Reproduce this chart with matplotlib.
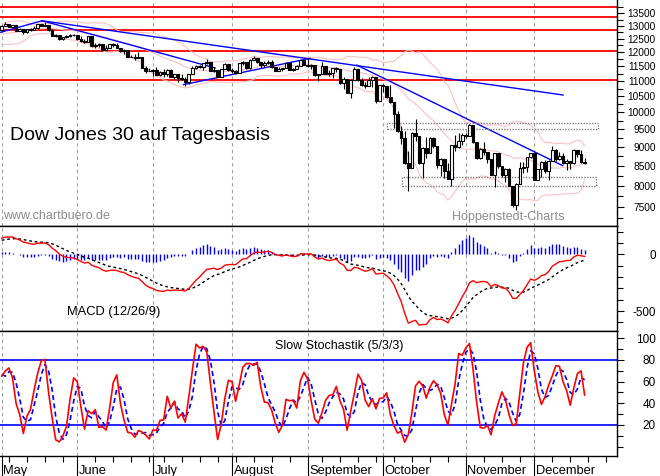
"""Dow Jones 30 daily candles with Bollinger, MACD and slow stochastic panels."""

import matplotlib

matplotlib.use("Agg")
import matplotlib.pyplot as plt  # noqa: E402
import matplotlib.transforms as mtransforms  # noqa: E402
import numpy as np  # noqa: E402
import pandas as pd  # noqa: E402
from matplotlib.patches import Rectangle  # noqa: E402

plt.rcParams["font.family"] = ["Liberation Sans", "DejaVu Sans"]

# warm-up history (Mar 3 - Apr 30), only used for the indicators
pre_close = [12258, 12213, 12254, 11740, 11893, 11740, 12156, 12110, 12145, 11951,
             11972, 12392, 12099, 12361, 12548, 12533, 12422, 12302, 12216, 12262,
             12654, 12608, 12626, 12609, 12612, 12577, 12527, 12581, 12325, 12302,
             12362, 12619, 12620, 12849, 12825, 12721, 12763, 12849, 12891, 12871,
             12831, 12820]
pre_high = [12300, 12260, 12380, 12250, 11990, 11950, 12180, 12260, 12200, 12230,
            11990, 12400, 12420, 12380, 12620, 12590, 12530, 12470, 12380, 12330,
            12670, 12700, 12660, 12700, 12740, 12620, 12620, 12620, 12570, 12370,
            12390, 12640, 12670, 12880, 12860, 12830, 12790, 12920, 12930, 12930,
            12900, 12990]
pre_low = [12120, 12010, 12150, 11730, 11730, 11730, 11760, 12090, 11850, 11840,
           11730, 11980, 12090, 12090, 12360, 12440, 12370, 12290, 12200, 12170,
           12260, 12570, 12540, 12570, 12590, 12520, 12480, 12470, 12300, 12260,
           12270, 12360, 12570, 12620, 12780, 12690, 12670, 12700, 12780, 12850,
           12800, 12800]

# shown period, one value per trading day (May 1 - Dec 19)
opens = [
    # May
    12820, 13010, 13058, 12970, 13021, 12814, 12867, 12746, 12876, 12832, 12898,
    13054, 12987, 13028, 12829, 12601, 12626, 12480, 12548, 12594, 12646,
    # June
    12638, 12504, 12403, 12390, 12604, 12210, 12280, 12290, 12084, 12142, 12307,
    12269, 12160, 12029, 12063, 11843, 11842, 11807, 11812, 11453, 11347,
    # July
    11350, 11382, 11216, 11289, 11232, 11384, 11147, 11229, 11101, 11055, 10963,
    11239, 11447, 11497, 11467, 11603, 11632, 11349, 11371, 11131, 11398, 11584,
    # August
    11378, 11326, 11284, 11616, 11656, 11431, 11734, 11782, 11642, 11533, 11616,
    11660, 11479, 11349, 11417, 11430, 11628, 11386, 11413, 11503, 11715,
    # September
    11544, 11517, 11533, 11188, 11221, 11511, 11231, 11269, 11434, 11422, 10918,
    11059, 10610, 11020, 11388, 11016, 10854, 10825, 11022, 11143, 10365,
    # October
    10851, 10831, 10483, 10325, 9956, 9447, 9258, 8579, 8451, 9388, 9311, 8578,
    8979, 8852, 9265, 9034, 8519, 8691, 8379, 8176, 9065, 8991, 9181,
    # November
    9325, 9320, 9625, 9139, 8696, 8944, 8871, 8694, 8283, 8835, 8497, 8274, 8425,
    7997, 7552, 8046, 8443, 8479, 8727,
    # December
    8829, 8149, 8419, 8592, 8376, 8635, 8934, 8691, 8761, 8565, 8630, 8565, 8924,
    8824, 8605,
]
highs = [
    13030, 13140, 13060, 13040, 13040, 12900, 12870, 12890, 12910, 13000, 13060,
    13080, 13136, 13030, 12880, 12690, 12630, 12570, 12630, 12700, 12690,
    12640, 12600, 12490, 12620, 12605, 12340, 12330, 12300, 12270, 12320, 12340,
    12330, 12170, 12120, 12070, 11910, 11920, 11990, 11820, 11520, 11450,
    11400, 11470, 11350, 11400, 11420, 11400, 11250, 11230, 11250, 11140, 11250,
    11500, 11540, 11560, 11630, 11750, 11650, 11490, 11380, 11410, 11620, 11590,
    11450, 11380, 11630, 11700, 11660, 11750, 11870, 11800, 11650, 11690, 11720,
    11710, 11490, 11460, 11450, 11640, 11630, 11440, 11560, 11730, 11720,
    11790, 11580, 11530, 11250, 11650, 11520, 11360, 11440, 11480, 11420, 11120,
    11060, 11060, 11480, 11390, 11100, 10960, 11140, 11150, 11140, 10860,
    10890, 10830, 10880, 10330, 10030, 9600, 9440, 8900, 9430, 9800, 9310, 9010,
    9270, 9270, 9280, 9030, 8720, 8680, 8590, 9070, 9340, 9400, 9380,
    9400, 9650, 9630, 9140, 8970, 9150, 8870, 8690, 8850, 8830, 8500, 8450, 8440,
    8000, 8080, 8600, 8600, 8740, 8840,
    8830, 8430, 8620, 8660, 8660, 9020, 8950, 8860, 8830, 8680, 8640, 8950, 8930,
    8920, 8720,
]
lows = [
    12800, 13000, 12940, 12880, 12800, 12800, 12700, 12730, 12780, 12830, 12860,
    12980, 12980, 12800, 12590, 12580, 12460, 12440, 12530, 12570, 12600,
    12440, 12370, 12340, 12370, 12200, 12170, 12180, 12060, 12070, 12140, 12200,
    12150, 12000, 11950, 11830, 11810, 11730, 11800, 11440, 11280, 11320,
    11160, 11200, 11150, 11140, 11150, 11130, 11060, 10980, 11030, 10830, 10900,
    11220, 11400, 11430, 11380, 11580, 11340, 11300, 11120, 11120, 11390, 11320,
    11260, 11230, 11280, 11550, 11400, 11420, 11710, 11600, 11450, 11480, 11590,
    11450, 11320, 11320, 11320, 11430, 11370, 11340, 11390, 11500, 11530,
    11480, 11420, 11180, 11000, 11220, 11220, 11170, 11100, 11290, 10910, 10740,
    10600, 10460, 11020, 11010, 10840, 10760, 10820, 10800, 10300, 10360,
    10640, 10450, 10280, 9530, 9430, 9080, 8550, 7882, 8450, 9180, 8560, 8200,
    8700, 8840, 8990, 8440, 8250, 8200, 8170, 8000, 8900, 8990, 9050,
    9250, 9320, 9120, 8670, 8690, 8800, 8580, 8270, 7970, 8450, 8230, 8100, 7990,
    7500, 7450, 8050, 8330, 8350, 8720,
    8140, 8150, 8230, 8320, 8150, 8640, 8620, 8650, 8540, 8400, 8430, 8560, 8730,
    8590, 8560,
]
closes = [
    13010, 13058, 12970, 13021, 12814, 12867, 12746, 12876, 12832, 12898, 13054,
    12987, 13028, 12829, 12601, 12626, 12480, 12548, 12594, 12646, 12638,
    12504, 12403, 12390, 12604, 12210, 12280, 12290, 12084, 12142, 12307, 12269,
    12160, 12029, 12063, 11843, 11842, 11807, 11812, 11453, 11347, 11350,
    11382, 11216, 11289, 11232, 11384, 11147, 11229, 11101, 11055, 10963, 11239,
    11447, 11497, 11467, 11603, 11632, 11349, 11371, 11131, 11398, 11584, 11378,
    11326, 11284, 11616, 11656, 11431, 11734, 11782, 11642, 11533, 11616, 11660,
    11479, 11349, 11417, 11430, 11628, 11386, 11413, 11503, 11715, 11544,
    11517, 11533, 11188, 11221, 11511, 11231, 11269, 11434, 11422, 10918, 11059,
    10610, 11020, 11388, 11016, 10854, 10825, 11022, 11143, 10365, 10851,
    10831, 10483, 10325, 9956, 9447, 9258, 8579, 8451, 9388, 9311, 8578, 8979,
    8852, 9265, 9034, 8519, 8691, 8379, 8176, 9065, 8991, 9181, 9325,
    9320, 9625, 9139, 8696, 8944, 8871, 8694, 8283, 8835, 8497, 8274, 8425, 7997,
    7552, 8046, 8443, 8479, 8727, 8829,
    8149, 8419, 8592, 8376, 8635, 8934, 8691, 8761, 8565, 8630, 8565, 8924, 8824,
    8605, 8579,
]

months = ["May", "June", "July", "August", "September", "October", "November", "December"]
month_start = [0, 21, 42, 64, 85, 106, 129, 148]          # trading-day index
week_start = [2, 7, 12, 17, 26, 31, 36, 41, 45, 50, 55, 60, 65, 70, 75, 80, 89, 94,
              99, 104, 109, 114, 119, 124, 134, 139, 144, 153, 158, 163, 168]

red_levels = [13750, 13340, 12820, 12050, 11040]
# trend lines: (day0, value0, day1, value1)
trend_lines = [
    (-0.5, 12740, 11.2, 13200),
    (11.2, 13200, 156, 10540),
    (11.2, 13200, 59.3, 11440),
    (50.5, 10876, 85.7, 11780),
    (98.7, 11540, 155.9, 8510),
]
# zones: (day0, day1, low, high)
zones = [(107.2, 165.8, 9500, 9670), (111.2, 165.1, 8000, 8220)]

price_ticks = [7500, 8000, 8500, 9000, 9500, 10000, 10500, 11000, 11500, 12000,
               12500, 13000, 13500]

# ---------------------------------------------------------------- indicators
n_pre = len(pre_close)
cl = pd.Series(pre_close + closes, dtype=float)
hi = pd.Series(pre_high + highs, dtype=float)
lo = pd.Series(pre_low + lows, dtype=float)

bb_mid = cl.rolling(20).mean()
bb_sd = cl.rolling(20).std(ddof=0)
bb_up = (bb_mid + 2 * bb_sd).values[n_pre:]
bb_dn = (bb_mid - 2 * bb_sd).values[n_pre:]
bb_mid = bb_mid.values[n_pre:]

macd = cl.ewm(span=12, adjust=False).mean() - cl.ewm(span=26, adjust=False).mean()
signal = macd.ewm(span=9, adjust=False).mean()
hist = (macd - signal).values[n_pre:]
signal = signal.values[n_pre:]
macd = macd.values[n_pre:]

fast_k = 100 * (cl - lo.rolling(5).min()) / (hi.rolling(5).max() - lo.rolling(5).min())
slow_k = fast_k.rolling(3).mean()
slow_d = slow_k.rolling(3).mean()
slow_k = slow_k.values[n_pre:]
slow_d = slow_d.values[n_pre:]

x = np.arange(len(closes))
o = np.array(opens, float)
c = np.array(closes, float)
h = np.array(highs, float)
l = np.array(lows, float)

# ---------------------------------------------------------------- figure
W, H = 660, 476
fig = plt.figure(figsize=(W / 100, H / 100), dpi=100)
right = 617 / W
ax1 = fig.add_axes([0, 250 / H, right, 226 / H])
ax2 = fig.add_axes([0, 145 / H, right, 105 / H])
ax3 = fig.add_axes([0, 20 / H, right, 125 / H])

GRID = "#a0a0a0"
PINK = "#ffc0c0"
XLIM = (-0.48, 171)

for ax in (ax1, ax2, ax3):
    ax.set_xlim(*XLIM)
    ax.spines["left"].set_visible(False)
    for s in ("top", "right", "bottom"):
        ax.spines[s].set_linewidth(1.0)
    for m in month_start:
        ax.axvline(m, color=GRID, lw=0.8, ls=(0, (3, 3)), zorder=0)
    ax.yaxis.tick_right()
    ax.tick_params(axis="y", which="major", length=5, width=0.8, pad=23, right=True)
    ax.tick_params(axis="y", which="minor", length=4, width=0.8, right=True)
    ax.tick_params(axis="x", which="both", bottom=False, labelbottom=False)
ax1.spines["top"].set_visible(False)

# price panel
ax1.set_yscale("log")
ax1.set_ylim(7087, 14057)
ax1.set_yticks(price_ticks)
ax1.set_yticklabels([str(t) for t in price_ticks], fontsize=7.3)
ax1.set_yticks([t + 250 for t in price_ticks[:-1]] + [7250, 13750], minor=True)
ax1.yaxis.set_minor_formatter(plt.NullFormatter())
for lab in ax1.get_yticklabels():
    lab.set_ha("right")

for lvl in red_levels:
    ax1.axhline(lvl, color="#ff0000", lw=1.3, zorder=1)

ax1.plot(x, bb_up, color=PINK, lw=0.8, zorder=1)
ax1.plot(x, bb_mid, color=PINK, lw=0.8, zorder=1)
ax1.plot(x, bb_dn, color=PINK, lw=0.8, zorder=1)

for d0, v0, d1, v1 in trend_lines:
    ax1.plot([d0, d1], [v0, v1], color="#0000ff", lw=1.0, zorder=2)

for d0, d1, v0, v1 in zones:
    ax1.add_patch(Rectangle((d0, v0), d1 - d0, v1 - v0, fill=False,
                            edgecolor="#808080", lw=1.0, ls=(0, (1, 1)), zorder=2))

up = c >= o
ax1.vlines(x, l, h, color="black", lw=0.8, zorder=3)
ax1.bar(x[up], (c - o)[up], bottom=o[up], width=0.75, color="white",
        edgecolor="black", lw=0.8, zorder=4)
ax1.bar(x[~up], (o - c)[~up], bottom=c[~up], width=0.75, color="black",
        edgecolor="black", lw=0.8, zorder=4)

ax1.text(10 / 617, 1 - 140 / 226, "Dow Jones 30 auf Tagesbasis", transform=ax1.transAxes,
         fontsize=14, va="baseline", ha="left")
ax1.text(3 / 617, 1 - 219 / 226, "www.chartbuero.de", transform=ax1.transAxes,
         fontsize=9, color="#8c8c8c", va="baseline", ha="left")
ax1.text(451.7 / 617, 1 - 220 / 226, "Hoppenstedt-Charts", transform=ax1.transAxes,
         fontsize=9, color="#8c8c8c", va="baseline", ha="left")

# MACD panel
ax2.set_ylim(-676, 250)
ax2.set_yticks([0, -500])
ax2.set_yticklabels(["0", "-500"], fontsize=8.4)
ax2.set_yticks([-600, -400, -300, -200, -100, 100, 200], minor=True)
for lab in ax2.get_yticklabels():
    lab.set_ha("right")
ax2.vlines(x, 0, hist, color="#0000ff", lw=1.0, zorder=2)
ax2.plot(x, signal, color="black", lw=1.0, ls=(0, (2, 2)), zorder=3)
ax2.plot(x, macd, color="#ff0000", lw=1.0, zorder=4)
ax2.text(66.7 / 617, 1 - (315.3 - 226) / 105, "MACD (12/26/9)", transform=ax2.transAxes,
         fontsize=9.3, va="baseline", ha="left")

# stochastic panel
ax3.set_ylim(-8.6, 106.7)
ax3.set_yticks([20, 40, 60, 80, 100])
ax3.set_yticklabels(["20", "40", "60", "80", "100"], fontsize=8.5)
ax3.set_yticks([0, 10, 30, 50, 70, 90], minor=True)
for lab in ax3.get_yticklabels():
    lab.set_ha("right")
ax3.axhline(80, color="#0000ff", lw=1.2, zorder=1)
ax3.axhline(20, color="#0000ff", lw=1.2, zorder=1)
ax3.plot(x, slow_d, color="#0000ff", lw=1.2, ls=(0, (3, 2)), zorder=2)
ax3.plot(x, slow_k, color="#ff0000", lw=1.2, zorder=3)
ax3.text(275 / 617, 1 - (349 - 331) / 125, "Slow Stochastik (5/3/3)", transform=ax3.transAxes,
         fontsize=9, va="baseline", ha="left")

# time axis below the stochastic panel
ax3.set_xticks(month_start)
ax3.set_xticks(week_start, minor=True)
ax3.tick_params(axis="x", which="major", bottom=True, direction="out", length=14.5, width=0.8)
ax3.tick_params(axis="x", which="minor", bottom=True, direction="out", length=4, width=0.8)
trans = mtransforms.blended_transform_factory(ax3.transData, ax3.transAxes)
for m, name in zip(month_start, months):
    ax3.text(m + 0.45, -0.144, name, transform=trans, fontsize=9.3,
             va="baseline", ha="left")

fig.savefig("out.png", dpi=100)
